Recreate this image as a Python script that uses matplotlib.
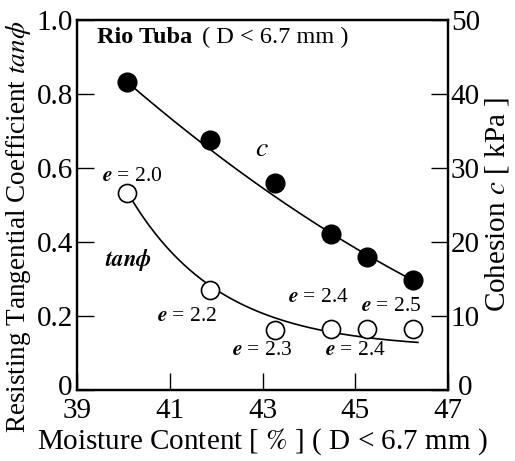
import numpy as np
import matplotlib
matplotlib.use("Agg")
import matplotlib.pyplot as plt
from matplotlib.transforms import ScaledTranslation

plt.rcParams['font.family'] = ['Liberation Serif', 'DejaVu Serif']
plt.rcParams['mathtext.fontset'] = 'stix'

# Measured values
moisture = [40.08, 41.87, 43.27, 44.48, 45.25, 46.25]        # moisture content [%]
cohesion = [41.6, 33.8, 27.9, 21.0, 17.9, 14.8]               # cohesion c [kPa]
tan_phi = [0.532, 0.270, 0.162, 0.165, 0.165, 0.165]          # resisting tangential coefficient
void_labels = ["2.0", "2.2", "2.3", "2.4", "2.4", "2.5"]      # void ratio e for each sample
void_label_pos = [(40.19, 0.576), (41.37, 0.197), (42.99, 0.105),
                  (45.00, 0.105), (44.20, 0.249), (45.77, 0.225)]

# Trend curves (fitted coefficients)
c_trend = (0.832, -0.1081, 0.00341)      # tan-scale quadratic in (x - x0)
tan_trend = (0.11, 0.425, 0.509)         # a + b*exp(-k (x - x0))
x0 = 40.08

fig = plt.figure(figsize=(5.15, 4.61), dpi=100)
ax = fig.add_axes([0.1495, 0.155, 0.7205, 0.802])
ax2 = ax.twinx()

# cohesion trend (drawn on left scale, 1.0 <-> 50 kPa)
xc = np.linspace(x0, 46.25, 200)
u = xc - x0
yc = c_trend[0] + c_trend[1] * u + c_trend[2] * u ** 2
ax.plot(xc, yc, color='black', lw=1.2, zorder=2)

xt = np.linspace(x0, 46.35, 200)
yt = tan_trend[0] + tan_trend[1] * np.exp(-tan_trend[2] * (xt - x0))
ax.plot(xt, yt, color='black', lw=1.2, zorder=2)

ax.plot(moisture, tan_phi, 'o', ms=13, mfc='white', mec='black', mew=1.2,
        zorder=3, clip_on=False)
ax2.plot(moisture, cohesion, 'o', ms=13.5, color='black', zorder=3, clip_on=False)

ax.set_xlim(39, 47)
ax.set_ylim(0, 1.0)
ax2.set_ylim(0, 50)
ax.set_xticks([39, 41, 43, 45, 47])
ax.set_yticks([0, 0.2, 0.4, 0.6, 0.8, 1.0])
ax.set_yticklabels(['0', '0.2', '0.4', '0.6', '0.8', '1.0'])
ax2.set_yticks([0, 10, 20, 30, 40, 50])

for a in (ax, ax2):
    for s in a.spines.values():
        s.set_linewidth(1.6)
ax.tick_params(axis='both', direction='in', length=12, width=1.0,
               labelsize=21, pad=3)
ax.tick_params(axis='x', pad=6)
ax2.tick_params(axis='y', direction='in', length=12, width=1.0,
                labelsize=21, pad=2)

# nudge the zero labels so they clear the corner x labels
lab0 = ax.get_yticklabels()[0]
lab0.set_transform(lab0.get_transform()
                   + ScaledTranslation(0, 3 / 72, fig.dpi_scale_trans))
lab0r = ax2.get_yticklabels()[0]
lab0r.set_transform(lab0r.get_transform()
                    + ScaledTranslation(5 / 72, 3 / 72, fig.dpi_scale_trans))

ax.set_xlabel(r'Moisture Content [ $\mathit{\%}$ ] ( D < 6.7 mm )',
              fontsize=21, labelpad=2)
ax.set_ylabel(r'Resisting Tangential Coefficient $\mathit{tan\phi}$',
              fontsize=19.5, labelpad=1)
ax.yaxis.set_label_coords(-0.118, 0.44)
ax2.set_ylabel(r'Cohesion $c$ [ kPa ]', fontsize=21, labelpad=2)

ax.text(39.43, 0.952, 'Rio Tuba', fontsize=17.5, fontweight='bold',
        ha='left', va='center')
ax.text(41.7, 0.952, '( D < 6.7 mm )', fontsize=17.5, ha='left', va='center')

ax.text(42.99, 0.65, r'$c$', fontsize=20, ha='center', va='center')
ax.text(40.1, 0.35, r'$\boldsymbol{tan\phi}$', fontsize=16.5, ha='center', va='center')

for lab, (lx, ly) in zip(void_labels, void_label_pos):
    ax.text(lx, ly, r'$\boldsymbol{e}$ = ' + lab, fontsize=15.5,
            ha='center', va='center')

fig.savefig('out.png', dpi=100)
